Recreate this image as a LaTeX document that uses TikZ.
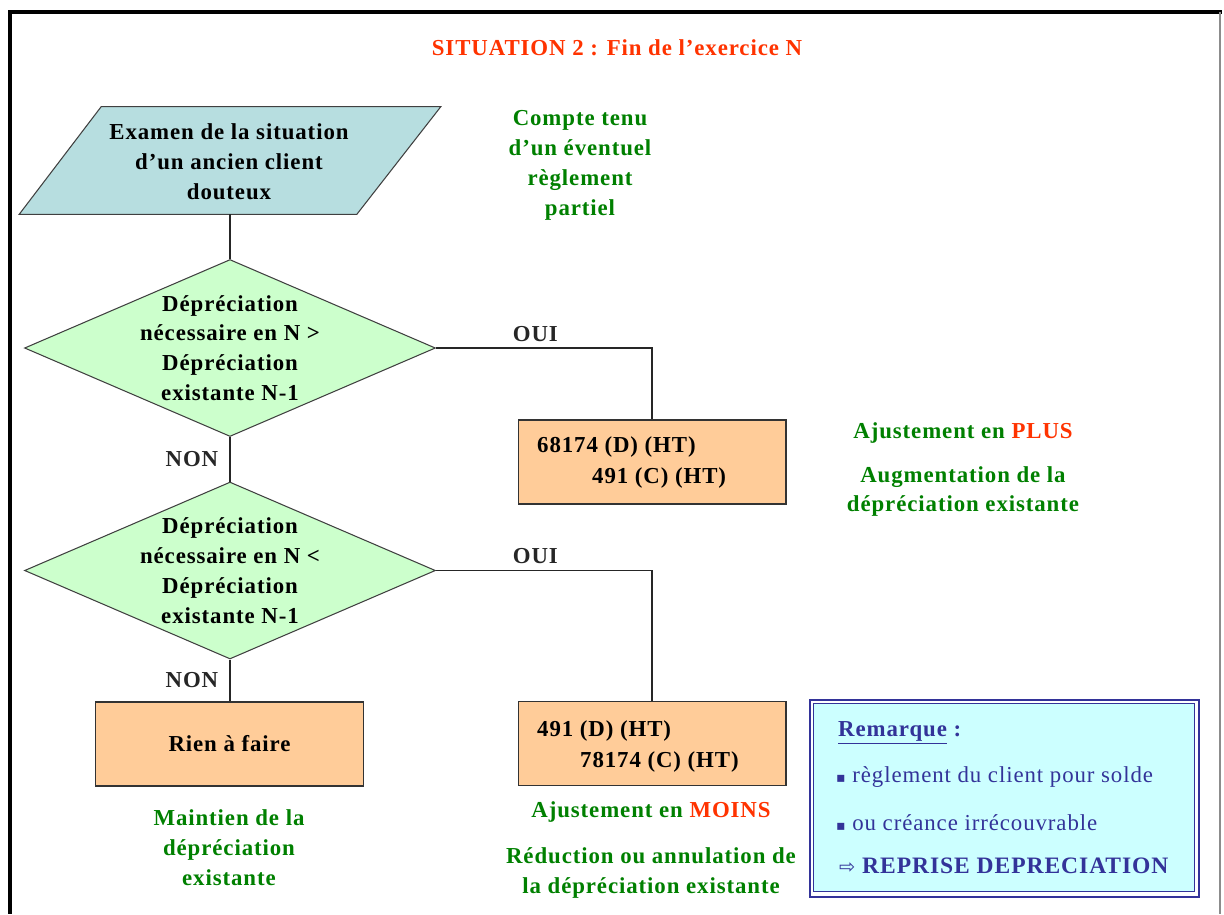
\documentclass[tikz,border=0pt]{standalone}
\usepackage{fontspec}
\setmainfont[LetterSpace=4]{Liberation Serif}
\newfontfamily\symfont{DejaVu Sans}
\usetikzlibrary{shapes.geometric,calc}
\definecolor{titlered}{HTML}{FF3300}
\definecolor{okgreen}{HTML}{008000}
\definecolor{exblue}{HTML}{B7DEE0}
\definecolor{decgreen}{HTML}{CCFFCC}
\definecolor{boxorange}{HTML}{FFCC99}
\definecolor{remnavy}{HTML}{333399}
\definecolor{remcyan}{HTML}{CCFFFF}

\begin{document}
\begin{tikzpicture}[x=0.02cm,y=-0.02cm,
	every node/.style={font=\bfseries\fontsize{13}{17}\selectfont, align=center},
	decision/.style={diamond, draw=black!75, line width=0.6pt, fill=decgreen, inner sep=0pt, minimum width=8.22cm, minimum height=3.54cm},
	entry/.style={draw=black!80, line width=0.6pt, fill=boxorange, inner sep=0pt, minimum width=5.36cm, minimum height=1.68cm},
	note/.style={text=okgreen},
	remtxt/.style={text=remnavy, anchor=west, font=\fontsize{13}{17}\selectfont},
	link/.style={line width=0.7pt, black!85}]
	%%%%% START %%%%%

	\useasboundingbox (0,0) rectangle (1224,914);

	% frame
	\draw[line width=2.3pt] (8,12) -- (1222,12);
	\draw[line width=2.3pt] (10,12) -- (10,914);
	\draw[line width=1pt, black!45] (1220,12) -- (1220,914);

	\node[text=titlered] (title) at (617,48) {SITUATION 2 : Fin de l'exercice N};

	% parallelogram
	\path node[inner sep=0pt, minimum width=8.42cm, minimum height=2.14cm] (ex) at (230,160.5) {};
	\draw[black!75, line width=0.6pt, fill=exblue] ($(ex.north west)+(82,0)$) -- (ex.north east) -- ($(ex.south east)+(-84,0)$) -- (ex.south west) -- cycle;
	\node at (229,162) {Examen de la situation\\d’un ancien client\\douteux};

	\node[note] (compte) at (580,165.5) {Compte tenu\\d’un éventuel\\règlement\\partiel};

	% decisions
	\node[decision, label={center:Dépréciation\\nécessaire en N >\\Dépréciation\\existante N-1}] (d1) at (230,348) {};
	\node[decision, label={center:Dépréciation\\nécessaire en N <\\Dépréciation\\existante N-1}] (d2) at (230,570.5) {};

	% entries
	\node[entry] (plus) at (652,462) {};
	\node[anchor=west] at (531,447) {68174 (D) (HT)};
	\node[anchor=west] at (586,478) {491 (C) (HT)};

	\node[entry] (moins) at (652,743.5) {};
	\node[anchor=west] at (531,731) {491 (D) (HT)};
	\node[anchor=west] at (574,762) {78174 (C) (HT)};

	\node[entry] (rien) at (229.5,744) {Rien à faire};

	% connectors
	\draw[link] (ex.south) -- (d1.north);
	\draw[link] (d1.east) -| node[pos=0.23, above] {OUI} (plus.north);
	\draw[link] (d1.south) -- node[left, xshift=-3pt] {NON} (d2.north);
	\draw[link] (d2.east) -| node[pos=0.23, above] {OUI} (moins.north);
	\draw[link] (d2.south) -- node[left, xshift=-3pt] {NON} (d2.south |- rien.north);

	% comments
	\node[note] (ajplus) at (963,433) {Ajustement en \textcolor{titlered}{PLUS}};
	\node[note] (augm) at (963,491.5) {Augmentation de la\\dépréciation existante};
	\node[note] (maint) at (229,847.5) {Maintien de la\\dépréciation\\existante};
	\node[note] (ajmoins) at (651,812) {Ajustement en \textcolor{titlered}{MOINS}};
	\node[note] (reduc) at (651,873) {Réduction ou annulation de\\la dépréciation existante};

	% remark
	\node[draw=remnavy, line width=1.6pt, fill=white, inner sep=0pt, minimum width=7.78cm, minimum height=3.94cm] (rem) at (1004.5,798.5) {};
	\draw[remnavy, line width=0.7pt, fill=remcyan] ($(rem.north west)+(5,5)$) rectangle ($(rem.south east)+(-6,-7)$);
	\node[remtxt, font=\bfseries\fontsize{13}{17}\selectfont] at (832,733) {\underline{Remarque} :};
	\node[remtxt] at (830,777) {{\symfont\fontsize{8}{10}\selectfont ▪} règlement du client pour solde};
	\node[remtxt] at (830,823) {{\symfont\fontsize{8}{10}\selectfont ▪} ou créance irrécouvrable};
	\node[remtxt, font=\bfseries\fontsize{13.4}{17}\selectfont] at (833,866) {{\symfont\mdseries\fontsize{11}{13}\selectfont ⇨} REPRISE DEPRECIATION};

	%%%%% END %%%%%
\end{tikzpicture}
\end{document}
